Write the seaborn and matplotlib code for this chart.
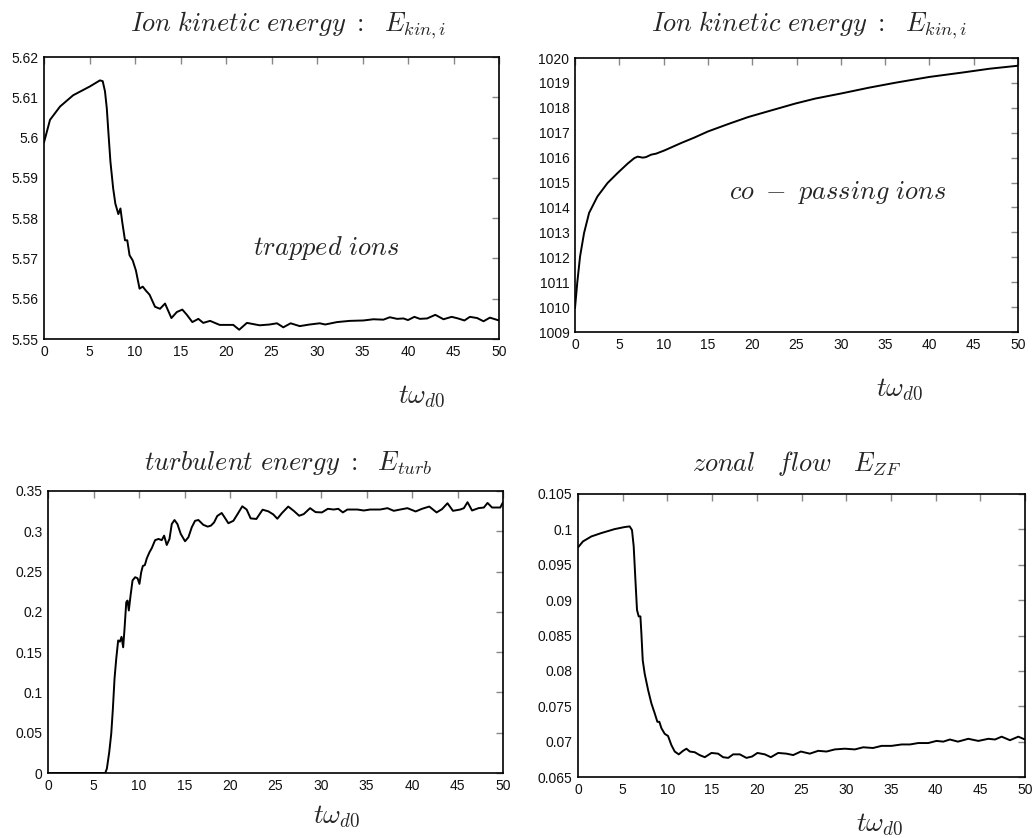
import numpy as np
import pandas as pd
import matplotlib
matplotlib.use("Agg")
import matplotlib.pyplot as plt
import seaborn as sns
from matplotlib.ticker import FormatStrFormatter, MultipleLocator

# ---------------- data ----------------
# Top-left: trapped ions kinetic energy
t_trap = [0, 0.66, 1.76, 3.2, 5.05, 6.15, 6.45, 6.7, 6.9, 7.07, 7.3, 7.6, 7.84, 8.17, 8.4, 8.6,
          8.9, 9.15, 9.4, 9.75, 10.1, 10.5, 10.85, 11.2, 11.6, 12.2, 12.75, 13.3, 14.0, 14.6,
          15.2, 15.7, 16.3, 16.96, 17.5, 18.25, 19.3, 20.8, 21.45, 22.3, 23.7, 24.8, 25.6, 26.3,
          27.1, 28.1, 29.2, 30.3, 30.9, 32.2, 33.6, 35.1, 36.2, 37.3, 38.0, 38.8, 39.5, 40.0,
          40.7, 41.3, 42.1, 43.0, 43.9, 44.8, 45.5, 46.2, 46.8, 47.6, 48.3, 49.0, 50.0]
e_trap = [5.5988, 5.6044, 5.6077, 5.6105, 5.6127, 5.6142, 5.6140, 5.6115, 5.6073, 5.6015, 5.594,
          5.5874, 5.5836, 5.581, 5.5824, 5.579, 5.5745, 5.5745, 5.5708, 5.5695, 5.567, 5.5625,
          5.563, 5.562, 5.561, 5.558, 5.5575, 5.5588, 5.5552, 5.5567, 5.5573, 5.556, 5.5542,
          5.555, 5.554, 5.5545, 5.5535, 5.5535, 5.5523, 5.554, 5.5534, 5.5536, 5.5539, 5.5529,
          5.5539, 5.5532, 5.5536, 5.5539, 5.5536, 5.5542, 5.5545, 5.5546, 5.5549, 5.5548, 5.5554,
          5.555, 5.5551, 5.5547, 5.5555, 5.555, 5.5551, 5.556, 5.5549, 5.5555, 5.5551, 5.5546,
          5.5555, 5.5552, 5.5544, 5.5553, 5.5546]

# Top-right: co-passing ions kinetic energy
t_pass = [0, 0.26, 0.57, 1.02, 1.59, 2.53, 3.67, 4.8, 5.94, 6.69, 7.07, 7.64, 8.0, 8.6, 9.15,
          10.1, 12.0, 13.5, 15.0, 17.3, 19.55, 21.8, 24.85, 27.1, 30.1, 33.2, 36.2, 40.0, 43.8,
          46.8, 50.0]
e_pass = [1009.96, 1011.0, 1012.03, 1012.97, 1013.78, 1014.44, 1014.98, 1015.38, 1015.76,
          1015.98, 1016.04, 1016.0, 1016.02, 1016.12, 1016.16, 1016.29, 1016.59, 1016.81,
          1017.05, 1017.35, 1017.63, 1017.86, 1018.17, 1018.37, 1018.58, 1018.81, 1019.01,
          1019.24, 1019.42, 1019.57, 1019.69]

# Bottom-left: turbulent energy
t_turb = [0, 6.29, 6.47, 6.73, 6.95, 7.13, 7.31, 7.5, 7.71, 7.9, 8.08, 8.26, 8.41, 8.6, 8.74,
          8.88, 9.07, 9.29, 9.58, 9.84, 10.05, 10.24, 10.42, 10.64, 10.86, 11.15, 11.4, 11.77,
          12.14, 12.5, 12.76, 13.05, 13.35, 13.6, 13.9, 14.22, 14.59, 15.06, 15.43, 15.8, 16.16,
          16.53, 17.07, 17.55, 17.9, 18.25, 18.6, 19.09, 19.45, 19.82, 20.37, 20.84, 21.35,
          21.83, 22.27, 22.9, 23.58, 24.2, 24.75, 25.2, 25.7, 26.4, 27.0, 27.6, 28.1, 28.8,
          29.4, 30.1, 30.75, 31.4, 31.9, 32.4, 32.9, 34.0, 34.7, 35.4, 36.5, 37.3, 38.0, 38.7,
          39.5, 40.4, 41.1, 41.9, 42.7, 43.3, 43.9, 44.5, 45.3, 45.7, 46.1, 46.6, 47.3, 47.9,
          48.3, 48.8, 49.7, 50.0]
e_turb = [0, 0, 0.0054, 0.026, 0.0488, 0.0798, 0.117, 0.142, 0.1645, 0.163, 0.169, 0.156,
          0.179, 0.212, 0.214, 0.2017, 0.22, 0.239, 0.243, 0.2417, 0.2347, 0.249, 0.257, 0.258,
          0.2665, 0.274, 0.279, 0.289, 0.2905, 0.289, 0.2946, 0.283, 0.2905, 0.309, 0.314,
          0.309, 0.2967, 0.2876, 0.2926, 0.305, 0.313, 0.314, 0.308, 0.3058, 0.307, 0.311,
          0.319, 0.3227, 0.3165, 0.31, 0.313, 0.3215, 0.331, 0.327, 0.316, 0.3153, 0.3268,
          0.3248, 0.321, 0.3156, 0.3225, 0.3307, 0.3254, 0.3193, 0.3213, 0.3287, 0.3238,
          0.3234, 0.3279, 0.327, 0.3279, 0.3234, 0.327, 0.327, 0.3258, 0.327, 0.327, 0.3287,
          0.3254, 0.327, 0.3287, 0.3246, 0.3279, 0.3307, 0.3234, 0.3275, 0.3348, 0.3254,
          0.327, 0.3287, 0.3361, 0.3258, 0.3287, 0.3295, 0.3352, 0.3295, 0.3295, 0.336]

# Bottom-right: zonal flow energy
t_zf = [0, 0.56, 1.49, 2.61, 4.1, 5.22, 5.78, 6.04, 6.23, 6.42, 6.6, 6.79, 6.98, 7.09, 7.24,
        7.46, 7.84, 8.21, 8.58, 8.88, 9.1, 9.33, 9.7, 10.07, 10.45, 10.82, 11.27, 11.75, 12.13,
        12.5, 13.06, 13.6, 14.18, 14.93, 15.67, 16.23, 16.8, 17.35, 18.1, 18.84, 19.48, 20.07,
        20.9, 21.57, 22.39, 23.32, 24.07, 24.93, 25.93, 26.87, 27.8, 28.73, 29.85, 30.97, 31.9,
        33.0, 33.96, 35.07, 36.2, 37.13, 38.06, 39.18, 40.1, 40.86, 41.6, 42.5, 43.66, 44.78,
        45.9, 46.64, 47.39, 48.32, 49.25, 50.0]
e_zf = [0.09745, 0.0983, 0.0990, 0.09948, 0.10004, 0.10033, 0.10042, 0.0999, 0.0976, 0.0929,
        0.0886, 0.0877, 0.0877, 0.0853, 0.0815, 0.0796, 0.0773, 0.0754, 0.074, 0.0728, 0.0728,
        0.0719, 0.0711, 0.0708, 0.0695, 0.0686, 0.0682, 0.0687, 0.069, 0.0686, 0.0685, 0.0681,
        0.0678, 0.0684, 0.0683, 0.0678, 0.0677, 0.0682, 0.0682, 0.0677, 0.0679, 0.0684, 0.0682,
        0.0678, 0.0684, 0.0683, 0.0681, 0.0686, 0.0683, 0.0687, 0.0686, 0.0689, 0.069, 0.0689,
        0.0692, 0.0691, 0.0694, 0.0694, 0.0696, 0.0696, 0.0698, 0.0698, 0.0701, 0.07, 0.0703,
        0.07, 0.0704, 0.0701, 0.0704, 0.0703, 0.0707, 0.0702, 0.0707, 0.0703]

# axis settings: (ylim, ytick step)
ylims = [(5.55, 5.62), (1009, 1020), (0, 0.35), (0.065, 0.105)]
ysteps = [0.01, 1, 0.05, 0.005]

titles = [r"$Ion\ kinetic\ energy\ :\ \ E_{kin,i}$",
          r"$Ion\ kinetic\ energy\ :\ \ E_{kin,i}$",
          r"$turbulent\ energy\ :\ \ E_{turb}$",
          r"$zonal\quad flow\quad E_{ZF}$"]
xlabel = r"$t\omega_{d0}$"
annotations = [(r"$trapped\ ions$", 31.0, 5.5726), (r"$co\ -\ passing\ ions$", 29.6, 1014.6)]

# ---------------- style ----------------
sns.set_style("white")
plt.rcParams["font.family"] = ["Liberation Sans", "DejaVu Sans"]
plt.rcParams["mathtext.fontset"] = "cm"

W, H = 1033, 838
fig = plt.figure(figsize=(W / 100, H / 100), dpi=100)

# axes boxes in pixels: (left, top, right, bottom)
boxes = [(44, 57, 499, 339), (575, 58, 1018, 332), (48, 491, 503, 773), (578, 494, 1025, 777)]
title_pos = [(288, 25), (809, 25), (288, 463), (797, 463)]
xlabel_pos = [(422, 396), (900, 389), (337, 816), (880, 824)]

series = [(t_trap, e_trap), (t_pass, e_pass), (t_turb, e_turb), (t_zf, e_zf)]

for i, ((l, t, r, b), (xs, ys)) in enumerate(zip(boxes, series)):
    ax = fig.add_axes([l / W, 1 - b / H, (r - l) / W, (b - t) / H])
    df = pd.DataFrame({"t": xs, "E": ys})
    sns.lineplot(data=df, x="t", y="E", ax=ax, color="black", linewidth=1.4,
                 estimator=None, sort=False)
    ax.set_xlim(0, 50)
    ax.set_ylim(*ylims[i])
    ax.xaxis.set_major_locator(MultipleLocator(5))
    ax.yaxis.set_major_locator(MultipleLocator(ysteps[i]))
    ax.yaxis.set_major_formatter(FormatStrFormatter("%g"))
    ax.xaxis.set_major_formatter(FormatStrFormatter("%g"))
    ax.set_xlabel("")
    ax.set_ylabel("")
    ax.tick_params(direction="in", top=True, right=True, length=5, width=1,
                   color="#888888", labelsize=10, labelcolor="#111111", pad=4)
    for sp in ax.spines.values():
        sp.set_color("black")
        sp.set_linewidth(1.2)
    if i < 2:
        txt, ax_x, ax_y = annotations[i]
        ax.text(ax_x, ax_y, txt, fontsize=19, ha="center", va="center")
    fig.text(title_pos[i][0] / W, 1 - title_pos[i][1] / H, titles[i], fontsize=19,
             ha="center", va="center")
    fig.text(xlabel_pos[i][0] / W, 1 - xlabel_pos[i][1] / H, xlabel, fontsize=19.5,
             ha="center", va="center")

fig.savefig("out.png", dpi=100, facecolor="white")
